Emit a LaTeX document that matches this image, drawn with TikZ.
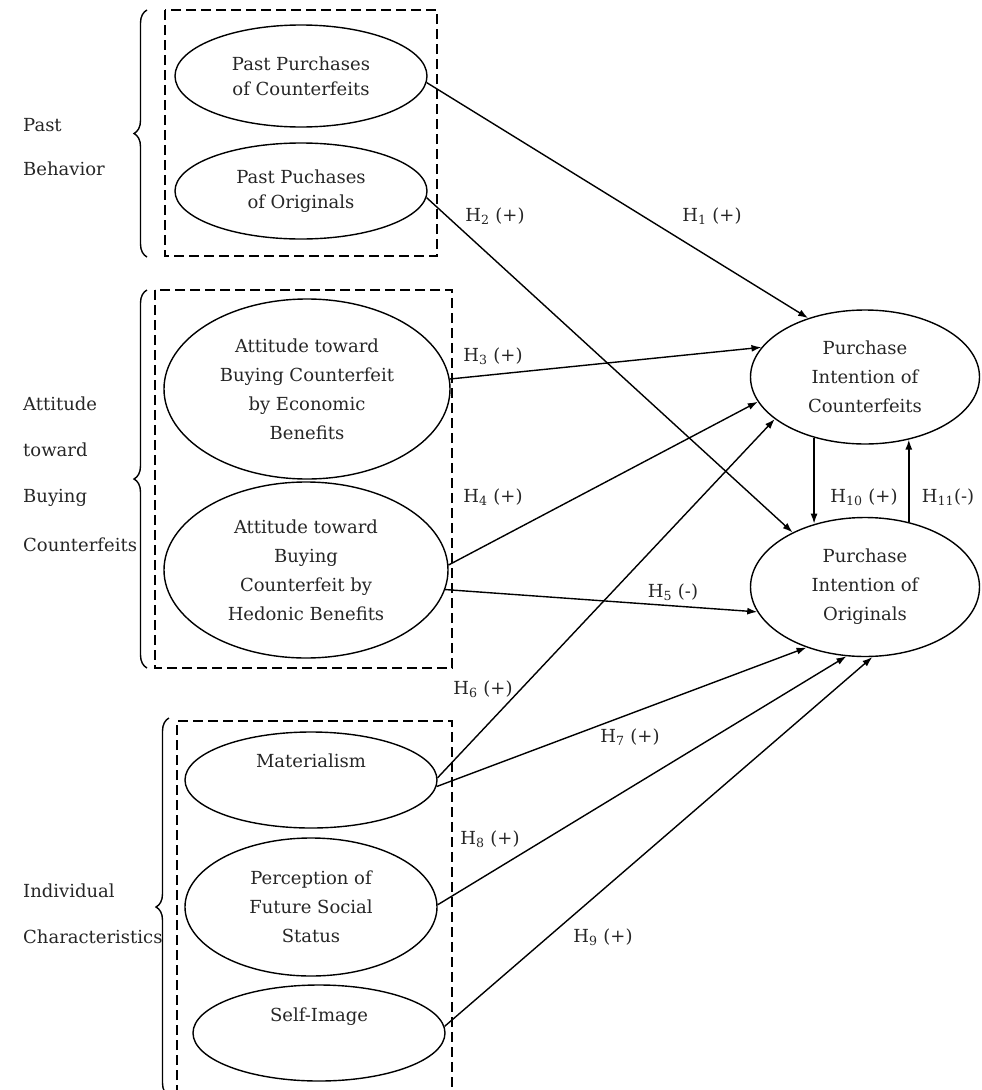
\documentclass[tikz,border=0pt]{standalone}
\usepackage{fontspec}
\setmainfont{DejaVu Serif}
\usetikzlibrary{arrows.meta,shapes.geometric,decorations.pathreplacing}
\begin{document}
\begin{tikzpicture}[x=1pt,y=-1pt,
  every node/.style={font=\fontsize{18pt}{29pt}\selectfont, text=black!85},
  ell/.style={draw, ellipse, line width=1.4pt, inner sep=0pt, align=center},
  tight/.style={font=\fontsize{18pt}{25pt}\selectfont},
  grp/.style={draw, dash pattern=on 10pt off 5pt, line width=1.4pt},
  brc/.style={decorate, decoration={brace, amplitude=13pt}, line width=1.4pt},
  arr/.style={-{Latex[length=10pt,width=7pt]}, line width=1.4pt},
  side/.style={anchor=west, inner sep=0pt, text height=13pt, text depth=4pt},
  hyp/.style={inner sep=0pt, text height=13pt, text depth=4pt},
]
\useasboundingbox (0,0) rectangle (982,1090);

% group frames
\draw[grp] (165,10) rectangle (437,256);
\draw[grp] (155,290) rectangle (452,668);
\draw[grp] (177,1095) -- (177,721) -- (452,721) -- (452,1095);

% braces
\draw[brc] (147,257) -- (147,10);
\draw[brc] (147,668) -- (147,290);
\draw[brc] (169,1096) -- (169,718);

% side labels
\node[side] (pb1) at (23,127) {Past};
\node[side] (pb2) at (23,171) {Behavior};
\node[side] (at1) at (23,406) {Attitude};
\node[side] (at2) at (23,452) {toward};
\node[side] (at3) at (23,498) {Buying};
\node[side] (at4) at (23,547) {Counterfeits};
\node[side] (ic1) at (23,893) {Individual};
\node[side] (ic2) at (23,939) {Characteristics};

% constructs
\node[ell, tight, minimum width=252pt, minimum height=102pt] (ppc) at (301,76) {Past Purchases\\of Counterfeits};
\node[ell, tight, minimum width=252pt, minimum height=96pt] (ppo) at (301,191) {Past Puchases\\of Originals};
\node[ell, minimum width=286pt, minimum height=180pt] (aec) at (307,389) {Attitude toward\\Buying Counterfeit\\by Economic\\Benefits};
\node[ell, minimum width=284pt, minimum height=176pt] (ahb) at (306,570) {Attitude toward\\Buying\\Counterfeit by\\Hedonic Benefits};
\node[ell, minimum width=252pt, minimum height=96pt] (mat) at (311,780) {Materialism\\\strut};
\node[ell, minimum width=252pt, minimum height=138pt] (pfs) at (311,907) {Perception of\\Future Social\\Status};
\node[ell, minimum width=252pt, minimum height=96pt] (sim) at (319,1033) {Self-Image\\\strut};
\node[ell, minimum width=229pt, minimum height=134pt] (pic) at (865,377) {Purchase\\Intention of\\Counterfeits};
\node[ell, minimum width=229pt, minimum height=139pt] (pio) at (865,587) {Purchase\\Intention of\\Originals};

% hypotheses
\draw[arr] (ppc.-3) -- (pic.134.5);
\draw[arr] (ppo.-3) -- (pio.143.7);
\draw[arr] (aec.4.8) -- (pic.164.6);
\draw[arr] (ahb.2.9) -- (pic.193.9);
\draw[arr] (ahb.-8.1) -- (pio.193.9);
\draw[arr] (mat.1) -- (pic.205.3);
\draw[arr] (mat.-3.8) -- (pio.226.4);
\draw[arr] (pfs.1) -- (pio.255);
\draw[arr] (sim.3.7) -- (pio.276.3);
\draw[arr] (pic.230.7) -- (pic.230.7 |- pio.128.7);
\draw[arr] (pio.56.3) -- (pio.56.3 |- pic.-55.3);

% hypothesis labels
\node[hyp] (l1) at (712,217) {H\textsubscript{1} (+)};
\node[hyp] (l2) at (495,217) {H\textsubscript{2} (+)};
\node[hyp] (l3) at (493,357) {H\textsubscript{3} (+)};
\node[hyp] (l4) at (493,498) {H\textsubscript{4} (+)};
\node[hyp] (l5) at (673,593) {H\textsubscript{5} (-)};
\node[hyp] (l6) at (483,690) {H\textsubscript{6} (+)};
\node[hyp] (l7) at (630,738) {H\textsubscript{7} (+)};
\node[hyp] (l8) at (490,840) {H\textsubscript{8} (+)};
\node[hyp] (l9) at (603,938) {H\textsubscript{9} (+)};
\node[hyp] (l10) at (864,498) {H\textsubscript{10} (+)};
\node[hyp] (l11) at (948,498) {H\textsubscript{11}(-)};
\end{tikzpicture}
\end{document}
